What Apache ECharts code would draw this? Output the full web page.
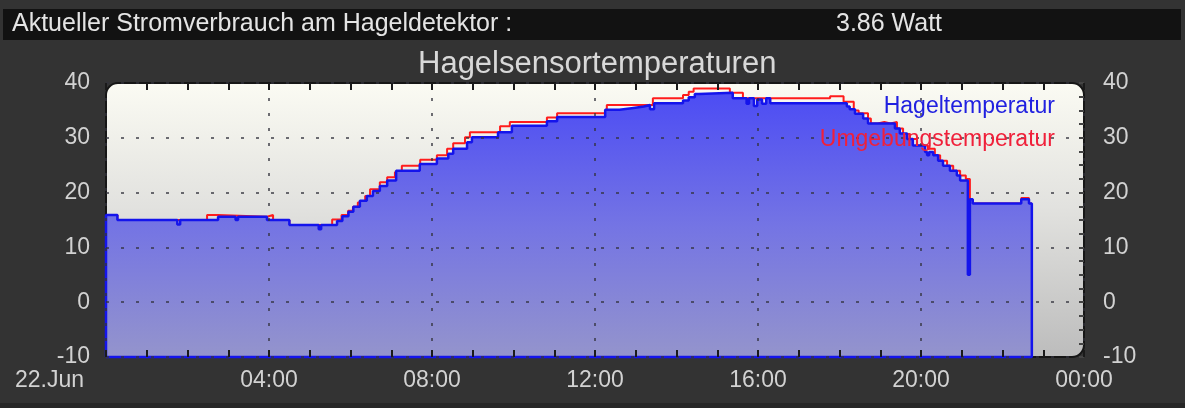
<!DOCTYPE html>
<html>
<head>
<meta charset="utf-8">
<script src="https://cdn.jsdelivr.net/npm/echarts@6/dist/echarts.min.js"></script>
<style>
html,body{margin:0;padding:0;background:#333333;}
#chart{width:1185px;height:408px;}
</style>
</head>
<body>
<div id="chart"></div>
<script>
// ---- data (hours since 22.Jun 00:00, °C) ----
const headerLabel = 'Aktueller Stromverbrauch am Hageldetektor :';
const headerValue = '3.86 Watt';
const chartTitle = 'Hagelsensortemperaturen';
const seriesNames = ['Hageltemperatur', 'Umgebungstemperatur'];
const xTickLabels = ['22.Jun', '04:00', '08:00', '12:00', '16:00', '20:00', '00:00'];
const yTickValues = [-10, 0, 10, 20, 30, 40];

const hagelData = [
  [0, -10], [0, 15.9], [0.28, 15.0], [1.75, 14.2], [1.82, 15.0], [2.75, 15.6],
  [3.18, 15.0], [3.24, 15.6], [3.95, 15.0], [4.5, 14.1], [5.22, 13.3], [5.28, 14.1],
  [5.67, 14.8], [5.8, 15.7], [5.95, 16.5], [6.07, 17.4], [6.23, 18.5], [6.4, 19.4],
  [6.55, 20.3], [6.72, 21.2], [6.9, 22.2], [7.12, 24.0], [7.7, 25.2], [8.12, 26.2],
  [8.4, 27.1], [8.52, 28.0], [8.86, 29.2], [8.98, 30.1], [9.62, 31.0], [9.96, 32.2],
  [10.82, 33.0], [11.07, 33.8], [12.25, 35.1], [12.6, 35.4], [12.9, 35.7], [13.2, 36.0],
  [13.35, 35.2], [13.45, 36.3], [14.16, 36.8], [14.3, 37.4], [14.45, 38.0], [14.55, 38.2],
  [15.38, 37.2], [15.72, 36.2], [15.78, 37.2], [15.9, 35.8], [15.98, 37.0], [16.1, 36.2],
  [16.2, 37.2], [16.3, 36.3], [18.18, 35.7], [18.25, 35.2], [18.38, 34.4], [18.58, 33.5],
  [18.7, 32.6], [19.36, 31.7], [19.48, 30.8], [19.66, 29.8], [19.8, 28.6], [20.1, 27.4],
  [20.15, 26.8], [20.2, 27.4], [20.3, 26.8], [20.42, 25.8], [20.54, 24.9], [20.71, 24.0],
  [20.88, 23.1], [20.96, 22.2], [21.15, 5.0], [21.2, 18.8], [21.27, 18.0], [22.46, 18.8],
  [22.65, 18.0], [22.72, -10], [0, -10]
];

const umgebungData = [
  [0, 15.9], [0.28, 15.0], [2.48, 15.9], [2.75, 15.6], [3.95, 15.9], [4.1, 15.0],
  [4.5, 14.1], [5.55, 15.1], [5.78, 15.9], [5.94, 16.7], [6.06, 17.4], [6.18, 18.2],
  [6.36, 19.4], [6.48, 20.6], [6.72, 21.9], [6.9, 22.8], [7.09, 23.7], [7.26, 24.9],
  [7.71, 26.0], [8.12, 26.8], [8.37, 28.0], [8.52, 29.0], [8.81, 30.1], [8.93, 31.0],
  [9.67, 32.1], [9.91, 32.9], [10.82, 33.7], [11.07, 34.5], [12.29, 36.0], [13.42, 37.2],
  [14.16, 37.8], [14.3, 38.4], [14.42, 39.0], [15.31, 38.2], [15.63, 37.2], [17.77, 37.6],
  [18.1, 36.6], [18.35, 35.0], [18.47, 34.5], [18.7, 33.5], [18.77, 32.6], [18.94, 32.9],
  [19.1, 32.6], [19.25, 32.9], [19.41, 31.7], [19.56, 30.7], [19.73, 29.8], [19.9, 28.6],
  [20.17, 28.0], [20.34, 26.8], [20.47, 25.8], [20.64, 24.9], [20.79, 24.0], [20.96, 23.1],
  [21.1, 22.5], [21.2, 18.5], [21.27, 18.0], [22.46, 19.0], [22.65, 18.0], [22.72, 18.0]
];

// ---- layout / style ----
const FONT = '"Liberation Sans", Arial, sans-serif';
const G = {left: 106, right: 101, top: 83, bottom: 51};
const W = 1185, H = 408;
const labelColor = '#d2d2d2';
const tickStyle = {color: '#1a1a1a', width: 2};
const gridDots = {color: 'rgba(50,50,60,0.7)', width: 2, type: [3, 12]};

const chart = echarts.init(document.getElementById('chart'), null, {renderer: 'canvas'});

function xAxisCfg(pos, showLabels) {
  return {
    type: 'value', position: pos, min: 0, max: 24, interval: 4, z: 5,
    axisLine: {show: false, onZero: false},
    axisTick: {show: true, inside: true, length: 7, lineStyle: tickStyle},
    minorTick: {show: true, splitNumber: 4, length: 7, lineStyle: tickStyle},
    splitLine: {show: showLabels, lineStyle: gridDots},
    axisLabel: {
      show: showLabels, margin: 12, color: labelColor, fontSize: 23, fontFamily: FONT,
      formatter: function (v) {
        const i = Math.round(v / 4);
        if (i === 0) return '{first|' + xTickLabels[0] + '}';
        return xTickLabels[i] || '';
      },
      rich: {first: {fontSize: 23, fontFamily: FONT, color: labelColor, padding: [0, 113, 0, 0]}}
    }
  };
}

function yAxisCfg(pos, main) {
  return {
    type: 'value', position: pos, min: yTickValues[0], max: yTickValues[yTickValues.length - 1], interval: 10, z: 5,
    axisLine: {show: false, onZero: false},
    axisTick: {show: !main, inside: true, length: 5, lineStyle: {color: '#444', width: 2}},
    minorTick: {show: !main, splitNumber: 4, length: 5, lineStyle: {color: '#444', width: 2}},
    splitLine: {show: main, lineStyle: gridDots},
    axisLabel: {color: labelColor, fontSize: 23, fontFamily: FONT, margin: main ? 16 : 19}
  };
}

const option = {
  backgroundColor: '#333333',
  animation: false,
  textStyle: {fontFamily: FONT},
  title: [
    {text: headerLabel, left: 12, top: 12, padding: 0,
     textStyle: {color: '#e4e4e4', fontSize: 25, fontWeight: 'normal', fontFamily: FONT}},
    {text: headerValue, left: 836, top: 12, padding: 0,
     textStyle: {color: '#e4e4e4', fontSize: 25, fontWeight: 'normal', fontFamily: FONT}},
    {text: chartTitle, left: 418, top: 49, padding: 0,
     textStyle: {color: '#d8d8d8', fontSize: 31, fontWeight: 'normal', fontFamily: FONT}}
  ],
  legend: [
    {data: [{name: seriesNames[0], textStyle: {color: '#2020e0'}}], right: 130, top: 95, padding: 0,
     itemWidth: 0, itemHeight: 0, itemGap: 0, selectedMode: false, z: 6,
     textStyle: {fontSize: 23, fontFamily: FONT}},
    {data: [{name: seriesNames[1], textStyle: {color: '#f0203a'}}], right: 130, top: 128, padding: 0,
     itemWidth: 0, itemHeight: 0, itemGap: 0, selectedMode: false, z: 6,
     textStyle: {fontSize: 23, fontFamily: FONT}}
  ],
  graphic: {elements: [
    {type: 'rect', z: -20, silent: true, shape: {x: 3, y: 9, width: W - 7, height: 31},
     style: {fill: '#121212'}},
    {type: 'rect', z: -20, silent: true, shape: {x: 0, y: 403, width: W, height: 5},
     style: {fill: '#272727'}},
    {type: 'rect', z: -20, silent: true,
     shape: {x: G.left, y: G.top, width: W - G.left - G.right, height: H - G.top - G.bottom, r: 12},
     style: {
       fill: new echarts.graphic.LinearGradient(0, 0, 0, 1, [
         {offset: 0, color: '#fbfbf3'}, {offset: 0.45, color: '#e2e2df'}, {offset: 1, color: '#bcbcbc'}
       ]),
       stroke: '#161616', lineWidth: 2
     }}
  ]},
  grid: {left: G.left, right: G.right, top: G.top, bottom: G.bottom, containLabel: false},
  xAxis: [xAxisCfg('bottom', true), xAxisCfg('top', false)],
  yAxis: [yAxisCfg('left', true), yAxisCfg('right', false)],
  series: [
    {
      name: seriesNames[1], type: 'line', step: 'end', data: umgebungData,
      xAxisIndex: 0, yAxisIndex: 0, showSymbol: false, symbol: 'none', z: 2, clip: false,
      lineStyle: {color: '#ff1c1c', width: 2}, itemStyle: {color: '#ff1c1c'}
    },
    {
      name: seriesNames[0], type: 'line', step: 'end', data: hagelData,
      xAxisIndex: 0, yAxisIndex: 0, showSymbol: false, symbol: 'none', z: 3, clip: false,
      lineStyle: {color: '#1414ec', width: 2.5}, itemStyle: {color: '#1414ec'},
      areaStyle: {
        origin: 'start', opacity: 1,
        color: new echarts.graphic.LinearGradient(0, 0, 0, 1, [
          {offset: 0, color: '#4c4cf4'}, {offset: 0.5, color: '#7474e4'}, {offset: 1, color: '#9494cc'}
        ])
      }
    }
  ]
};
chart.setOption(option);
</script>
</body>
</html>
